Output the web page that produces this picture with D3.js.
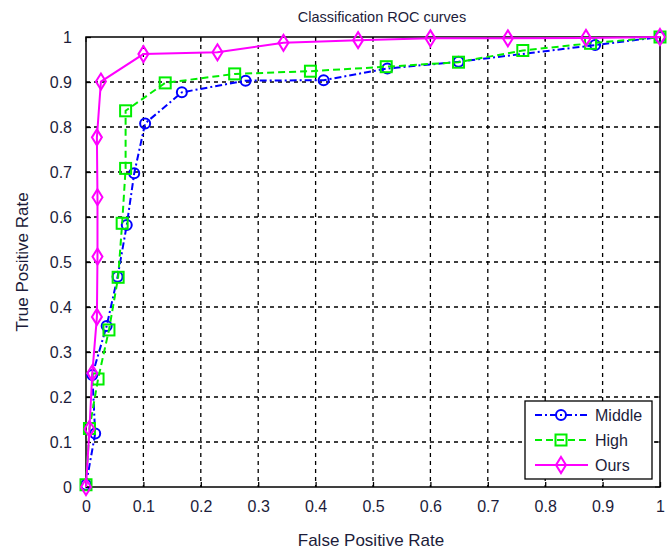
<!DOCTYPE html>
<html>
<head>
<meta charset="utf-8">
<script src="https://cdn.jsdelivr.net/npm/d3@7"></script>
<style>
  body { margin: 0; background: #fff; }
  text { font-family: "Liberation Sans", Arial, sans-serif; fill: #1c1c3a; }
</style>
</head>
<body>
<div id="chart"></div>
<script>
// ROC points
var middleFpr = [0, 0.016, 0.011, 0.036, 0.055, 0.071, 0.084, 0.103, 0.167, 0.278, 0.414, 0.525, 0.649, 0.887, 1];
var middleTpr = [0.005, 0.119, 0.249, 0.358, 0.467, 0.582, 0.697, 0.808, 0.877, 0.903, 0.904, 0.930, 0.945, 0.982, 1];

var highFpr = [0, 0.006, 0.021, 0.040, 0.056, 0.063, 0.069, 0.069, 0.138, 0.259, 0.391, 0.523, 0.649, 0.761, 0.879, 1];
var highTpr = [0.005, 0.13, 0.24, 0.349, 0.466, 0.586, 0.708, 0.836, 0.898, 0.918, 0.924, 0.934, 0.944, 0.970, 0.986, 1];

var oursFpr = [0, 0.006, 0.011, 0.019, 0.020, 0.020, 0.019, 0.026, 0.1, 0.229, 0.344, 0.474, 0.6, 0.735, 0.871, 1];
var oursTpr = [0, 0.129, 0.253, 0.378, 0.512, 0.644, 0.777, 0.901, 0.962, 0.966, 0.987, 0.993, 0.997, 0.997, 0.998, 1];

var ticks = [0, 0.1, 0.2, 0.3, 0.4, 0.5, 0.6, 0.7, 0.8, 0.9, 1];
var seriesNames = ["Middle", "High", "Ours"];

var W = 672, H = 549;
var plotL = 86, plotR = 660, plotT = 37, plotB = 487;

var svg = d3.select("#chart").append("svg")
    .attr("width", W)
    .attr("height", H);

var x = d3.scaleLinear().domain([0, 1]).range([plotL, plotR]);
var y = d3.scaleLinear().domain([0, 1]).range([plotB, plotT]);

// grid
var grid = svg.append("g").attr("stroke", "#000").attr("stroke-dasharray", "4,4").attr("stroke-width", 1.3);
ticks.slice(1, -1).forEach(function(t){
    grid.append("line").attr("x1", x(t)).attr("x2", x(t)).attr("y1", plotT).attr("y2", plotB);
    grid.append("line").attr("y1", y(t)).attr("y2", y(t)).attr("x1", plotL).attr("x2", plotR);
});

// axes
var xAxis = d3.axisBottom(x).tickValues(ticks).tickSize(-5).tickPadding(14).tickFormat(d3.format("~g"));
var yAxis = d3.axisLeft(y).tickValues(ticks).tickSize(-5).tickPadding(14).tickFormat(d3.format("~g"));
var xa = svg.append("g").attr("transform", "translate(0," + plotB + ")").call(xAxis);
var ya = svg.append("g").attr("transform", "translate(" + plotL + ",0)").call(yAxis);
[xa, ya].forEach(function(a){
    a.select(".domain").remove();
    a.selectAll("line").attr("stroke", "#000").attr("stroke-width", 1.3);
    a.selectAll("text").style("font-size", "16px").attr("fill", "#1c1c3a");
});
// top / right ticks
ticks.forEach(function(t){
    svg.append("line").attr("x1", x(t)).attr("x2", x(t)).attr("y1", plotT).attr("y2", plotT + 5).attr("stroke", "#000");
    svg.append("line").attr("y1", y(t)).attr("y2", y(t)).attr("x1", plotR).attr("x2", plotR - 5).attr("stroke", "#000");
});

svg.append("rect")
    .attr("x", plotL).attr("y", plotT)
    .attr("width", plotR - plotL).attr("height", plotB - plotT)
    .attr("fill", "none").attr("stroke", "#000").attr("stroke-width", 1.5);

var series = [
    {name: seriesNames[0], fpr: middleFpr, tpr: middleTpr, color: "#0000ff", dash: "7,3,2,3", marker: "circle"},
    {name: seriesNames[1], fpr: highFpr, tpr: highTpr, color: "#00ee00", dash: "7,4", marker: "square"},
    {name: seriesNames[2], fpr: oursFpr, tpr: oursTpr, color: "#ff00ff", dash: null, marker: "diamond"}
];

function drawMarker(g, type, cx, cy, color){
    if(type == "circle"){
        g.append("circle").attr("cx", cx).attr("cy", cy).attr("r", 5)
          .attr("fill", "none").attr("stroke", color).attr("stroke-width", 2);
    } else if(type == "square"){
        g.append("rect").attr("x", cx - 5.5).attr("y", cy - 5.5).attr("width", 11).attr("height", 11)
          .attr("fill", "none").attr("stroke", color).attr("stroke-width", 2);
    } else {
        g.append("path").attr("d", "M" + cx + "," + (cy - 8) + "L" + (cx + 5) + "," + cy + "L" + cx + "," + (cy + 8) + "L" + (cx - 5) + "," + cy + "Z")
          .attr("fill", "none").attr("stroke", color).attr("stroke-width", 2);
    }
}

var line = d3.line();
series.forEach(function(s){
    var pts = s.fpr.map(function(f, i){ return [x(f), y(s.tpr[i])]; });
    var g = svg.append("g");
    g.append("path").attr("d", line(pts))
      .attr("fill", "none").attr("stroke", s.color).attr("stroke-width", 2)
      .attr("stroke-dasharray", s.dash);
    pts.forEach(function(p){ drawMarker(g, s.marker, p[0], p[1], s.color); });
});

// legend
var lg = svg.append("g");
lg.append("rect").attr("x", 525).attr("y", 401).attr("width", 127).attr("height", 78)
  .attr("fill", "#fff").attr("stroke", "#000").attr("stroke-width", 1.3);
series.forEach(function(s, i){
    var ly = 415 + i * 25;
    lg.append("line").attr("x1", 535).attr("x2", 588).attr("y1", ly).attr("y2", ly)
      .attr("stroke", s.color).attr("stroke-width", 2).attr("stroke-dasharray", s.dash);
    drawMarker(lg, s.marker, 561, ly, s.color);
    lg.append("text").attr("x", 595).attr("y", ly + 6).style("font-size", "16px").text(s.name);
});

svg.append("text").attr("x", 382).attr("y", 22).attr("text-anchor", "middle")
  .style("font-size", "14.5px").text("Classification ROC curves");
svg.append("text").attr("x", 371).attr("y", 546).attr("text-anchor", "middle")
  .style("font-size", "17px").text("False Positive Rate");
svg.append("text").attr("transform", "translate(28," + (plotT + plotB) / 2 + ") rotate(-90)")
  .attr("text-anchor", "middle").style("font-size", "17px").text("True Positive Rate");
</script>
</body>
</html>
